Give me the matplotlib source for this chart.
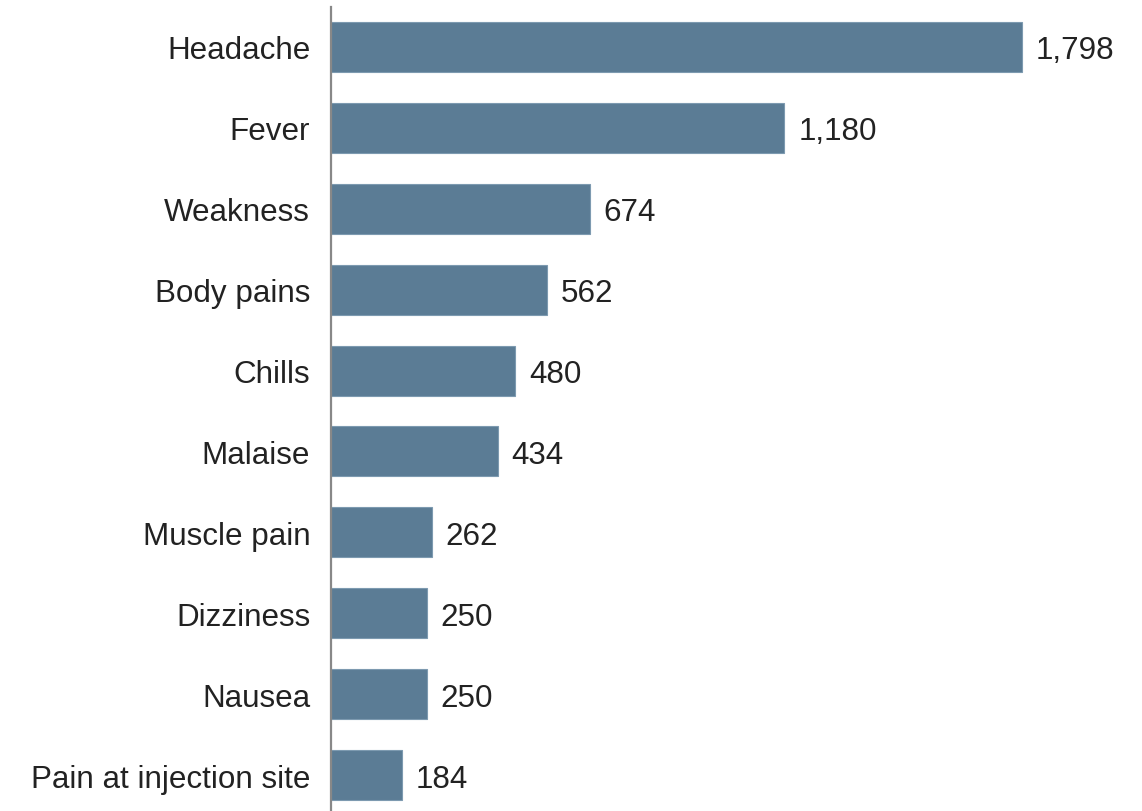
import matplotlib.pyplot as plt

# данные: симптомы и число случаев
symptoms = ['Headache', 'Fever', 'Weakness', 'Body pains', 'Chills', 'Malaise',
            'Muscle pain', 'Dizziness', 'Nausea', 'Pain at injection site']
counts = [1798, 1180, 674, 562, 480, 434, 262, 250, 250, 184]

plt.rcParams['font.family'] = ['Liberation Sans', 'DejaVu Sans']

fig = plt.figure(figsize=(11.42, 8.12), dpi=100)
ax = fig.add_axes([331 / 1142, 0, 1 - 331 / 1142, (812 - 8) / 812])

y = list(range(len(symptoms)))
ax.barh(y, counts, height=0.618, color='#5b7c95', edgecolor='#7d9ab0', linewidth=0.8)

# подписи значений справа от столбцов
for yi, v in zip(y, counts):
    ax.text(v + 36, yi, f'{v:,}', va='center_baseline', ha='left', fontsize=22.6, color='#222222')

ax.set_xlim(0, 2111)
ax.set_ylim(9.445, -0.494)
ax.set_yticks(y)
ax.set_yticklabels(symptoms, fontsize=22.6, color='#222222', va='center_baseline')
ax.tick_params(axis='y', length=0, pad=15)
ax.set_xticks([])

for s in ['top', 'right', 'bottom']:
    ax.spines[s].set_visible(False)
ax.spines['left'].set_color('#888888')
ax.spines['left'].set_linewidth(1.6)

fig.savefig('out.png', dpi=100)
